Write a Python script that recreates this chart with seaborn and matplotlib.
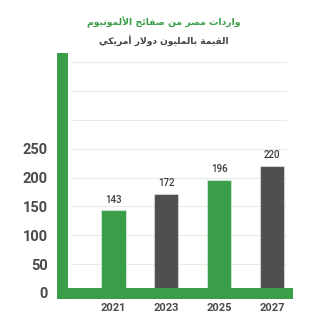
import matplotlib
matplotlib.use("Agg")
import matplotlib.pyplot as plt
import numpy as np
import pandas as pd
import seaborn as sns

# Data
years = ["2021", "2023", "2025", "2027"]
values = [143, 172, 196, 220]
bar_colors = ["#3a9d48", "#4f4f4f", "#3a9d48", "#4f4f4f"]
y_ticks = [0, 50, 100, 150, 200, 250]

title = "واردات مصر من صفائح الألمونيوم"
subtitle = "القيمة بالمليون دولار أمريكي"

GREEN = "#3a9d48"
TEXT = "#4a4a4a"

# Minimal Arabic shaping: contextual presentation forms + visual (RTL) order
DUAL = {'ئ': 0xFE89, 'ب': 0xFE8F, 'ت': 0xFE95, 'ث': 0xFE99, 'ج': 0xFE9D, 'ح': 0xFEA1,
        'خ': 0xFEA5, 'س': 0xFEB1, 'ش': 0xFEB5, 'ص': 0xFEB9, 'ض': 0xFEBD, 'ط': 0xFEC1,
        'ظ': 0xFEC5, 'ع': 0xFEC9, 'غ': 0xFECD, 'ف': 0xFED1, 'ق': 0xFED5, 'ك': 0xFED9,
        'ل': 0xFEDD, 'م': 0xFEE1, 'ن': 0xFEE5, 'ه': 0xFEE9, 'ي': 0xFEF1}
RIGHT = {'آ': 0xFE81, 'أ': 0xFE83, 'ؤ': 0xFE85, 'إ': 0xFE87, 'ا': 0xFE8D, 'ة': 0xFE93,
         'د': 0xFEA9, 'ذ': 0xFEAB, 'ر': 0xFEAD, 'ز': 0xFEAF, 'و': 0xFEED, 'ى': 0xFEEF}
LAM_ALEF = {'آ': 0xFEF5, 'أ': 0xFEF7, 'إ': 0xFEF9, 'ا': 0xFEFB}


def shape(text):
    out = []
    i = 0
    prev_joins = False
    while i < len(text):
        c = text[i]
        nxt = text[i + 1] if i + 1 < len(text) else ''
        if c == 'ل' and nxt in LAM_ALEF:
            out.append(chr(LAM_ALEF[nxt] + (1 if prev_joins else 0)))
            prev_joins = False
            i += 2
            continue
        if c in DUAL:
            joins_next = nxt in DUAL or nxt in RIGHT
            idx = (1 if prev_joins else 0) + (2 if joins_next else 0)
            out.append(chr(DUAL[c] + idx))
            prev_joins = joins_next
        elif c in RIGHT:
            out.append(chr(RIGHT[c] + (1 if prev_joins else 0)))
            prev_joins = False
        else:
            out.append(c)
            prev_joins = False
        i += 1
    return ''.join(reversed(out))


sns.set_theme(style="white")
plt.rcParams['font.family'] = ['Roboto', 'DejaVu Sans']

df = pd.DataFrame({"year": years, "value": values})

fig = plt.figure(figsize=(3.25, 3.25), dpi=100)
ax = fig.add_axes([0.1923, 0.0985, 0.883 - 0.1923, 0.823 - 0.0985])

sns.barplot(data=df, x="year", y="value", hue="year", palette=bar_colors,
            legend=False, width=0.455, saturation=1, ax=ax,
            edgecolor=(1, 1, 1, 0.45), linewidth=0.8, zorder=2)

# faint horizontal guides
xmin_g = -0.786
ax.hlines(np.arange(50, 401, 50), xmin_g, 3.29, colors="#e2f0e2", linewidth=0.8, zorder=0)

ax.set_xlim(-0.966, 3.286)
ax.set_ylim(2.5, 408)

# thick green axis frame on the left and bottom
for side in ("left", "bottom"):
    sp = ax.spines[side]
    sp.set_visible(True)
    sp.set_color(GREEN)
    sp.set_linewidth(7.9)
    sp.set_capstyle("projecting")
    sp.set_zorder(3)
for side in ("top", "right"):
    ax.spines[side].set_visible(False)

ax.set_yticks(y_ticks)
ax.set_yticklabels([str(t) for t in y_ticks])
ax.tick_params(axis="y", length=0, pad=10.5, labelsize=10.5, labelcolor=TEXT)
ax.tick_params(axis="x", length=0, pad=7.5, labelsize=8, labelcolor=TEXT)
for lab in ax.get_yticklabels() + ax.get_xticklabels():
    lab.set_fontweight("bold")
ax.set_xlabel("")
ax.set_ylabel("")

# value labels above bars
for patch, v in zip(ax.patches, values):
    ax.annotate(str(v), (patch.get_x() + patch.get_width() / 2, v),
                xytext=(0, 4), textcoords="offset points", ha="center", va="bottom",
                fontsize=7, color="#3a3a3a", fontweight="medium")

fig.text(0.505, 1 - 22 / 325, shape(title), ha="center", va="center",
         fontsize=6.7, fontweight="bold", color=GREEN, family=["DejaVu Sans"])
fig.text(0.505, 1 - 41 / 325, shape(subtitle), ha="center", va="center",
         fontsize=6.6, fontweight="bold", color="#444444", family=["DejaVu Sans"])

fig.savefig("out.png", dpi=100)
